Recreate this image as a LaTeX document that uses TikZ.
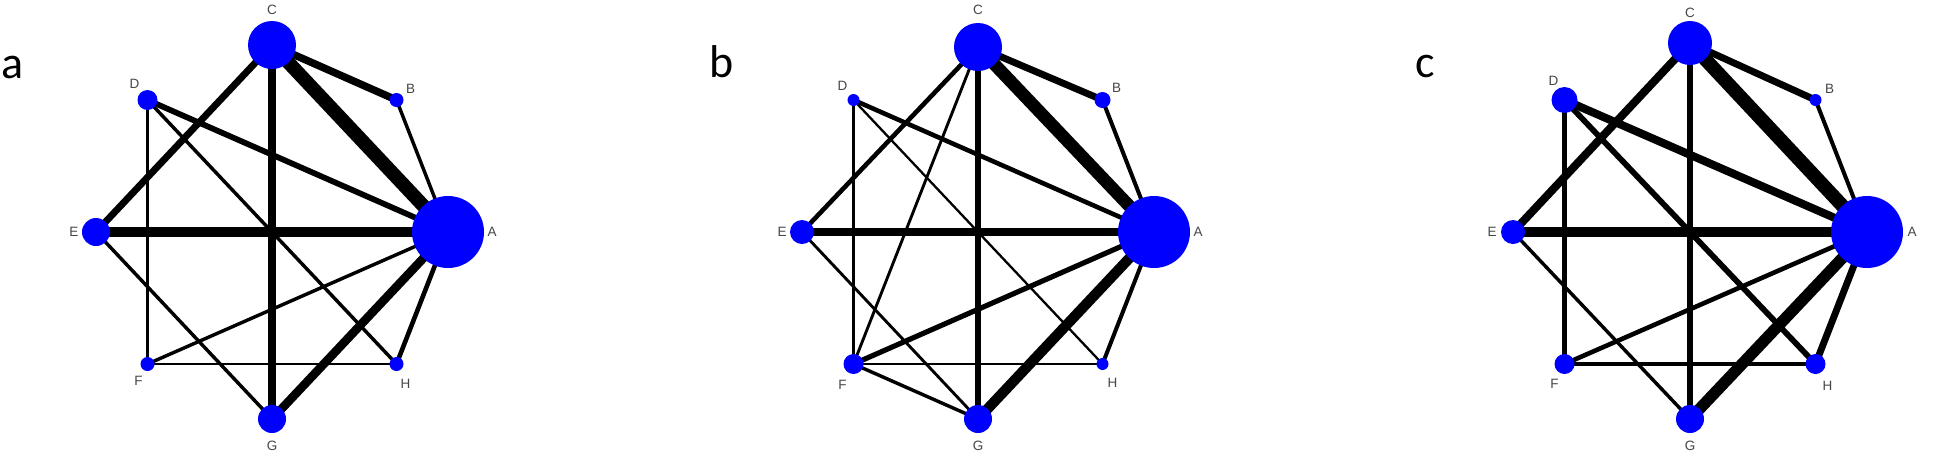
\documentclass[tikz,border=0pt]{standalone}
\usepackage{fontspec}
\setmainfont{Liberation Sans}
\newfontfamily\panelfont{Carlito}
\usetikzlibrary{backgrounds,calc}
\definecolor{netblue}{RGB}{0,0,255}
\definecolor{labgray}{RGB}{70,70,70}
\tikzset{
  vert/.style={circle, fill=netblue, draw=none, inner sep=0pt},
  vlab/.style={text=labgray, font=\fontsize{13.5}{15}\selectfont, inner sep=0pt},
  plab/.style={font=\panelfont\fontsize{46}{50}\selectfont, anchor=base west, inner sep=0pt},
  lnk/.style={draw=black, line width=1.15*#1},
}
% name, x, y, radius, letter, label dx, label dy
\newcommand\vtx[7]{%
  \node[vert, minimum size=#4*2pt] (#1) at (#2,#3) {};
  \node[vlab] (#1-l) at ($(#1)+(#6,#7)$) {#5};
}
\begin{document}
\begin{tikzpicture}[x=1pt,y=-1pt]
\useasboundingbox (0,0) rectangle (1949,456);
\begin{scope}[on background layer]
\fill[white] (0,0) rectangle (1949,456);
\end{scope}

% ---------------- panel a ----------------
\node[plab] (la) at (1,78) {a};
\begin{scope}[xshift=272pt]
\vtx{a-A}{176}{232}{36}{A}{44}{0}
\vtx{a-B}{124.5}{100}{7}{B}{14}{-11}
\vtx{a-C}{0}{45}{24}{C}{0}{-35}
\vtx{a-D}{-124.5}{100}{10}{D}{-13}{-16}
\vtx{a-E}{-176}{232}{14}{E}{-22}{0}
\vtx{a-F}{-124.5}{364}{7}{F}{-9}{17}
\vtx{a-G}{0}{419}{14}{G}{0}{27}
\vtx{a-H}{124.5}{364}{7}{H}{9}{20}
\end{scope}
\begin{scope}[on background layer]
\draw[lnk=12pt] (a-C.center) -- (a-A.center);
\draw[lnk=6.5pt] (a-C.center) -- (a-B.center);
\draw[lnk=6.5pt] (a-C.center) -- (a-G.center);
\draw[lnk=6pt] (a-C.center) -- (a-E.center);
\draw[lnk=5pt] (a-D.center) -- (a-A.center);
\draw[lnk=8pt] (a-E.center) -- (a-A.center);
\draw[lnk=7.5pt] (a-A.center) -- (a-G.center);
\draw[lnk=3pt] (a-B.center) -- (a-A.center);
\draw[lnk=4pt] (a-A.center) -- (a-H.center);
\draw[lnk=3pt] (a-A.center) -- (a-F.center);
\draw[lnk=2.5pt] (a-D.center) -- (a-F.center);
\draw[lnk=3pt] (a-D.center) -- (a-H.center);
\draw[lnk=3pt] (a-E.center) -- (a-G.center);
\draw[lnk=1.7pt] (a-F.center) -- (a-H.center);
\end{scope}

% ---------------- panel b ----------------
\node[plab] (lb) at (709,77) {b};
\begin{scope}[xshift=978pt]
\vtx{b-A}{176}{232}{36}{A}{44}{0}
\vtx{b-B}{124.5}{100}{8}{B}{14}{-12}
\vtx{b-C}{0}{47}{24}{C}{0}{-37}
\vtx{b-D}{-124.5}{100}{6}{D}{-11}{-14}
\vtx{b-E}{-176}{232}{12}{E}{-20}{0}
\vtx{b-F}{-124.5}{364}{10}{F}{-11}{21}
\vtx{b-G}{0}{419}{14}{G}{0}{27}
\vtx{b-H}{124.5}{364}{6}{H}{10}{19}
\end{scope}
\begin{scope}[on background layer]
\draw[lnk=11pt] (b-C.center) -- (b-A.center);
\draw[lnk=6pt] (b-C.center) -- (b-B.center);
\draw[lnk=6pt] (b-C.center) -- (b-G.center);
\draw[lnk=4pt] (b-C.center) -- (b-E.center);
\draw[lnk=2.5pt] (b-C.center) -- (b-F.center);
\draw[lnk=4pt] (b-D.center) -- (b-A.center);
\draw[lnk=7pt] (b-E.center) -- (b-A.center);
\draw[lnk=4.5pt] (b-A.center) -- (b-F.center);
\draw[lnk=9pt] (b-A.center) -- (b-G.center);
\draw[lnk=3.5pt] (b-A.center) -- (b-H.center);
\draw[lnk=3.5pt] (b-B.center) -- (b-A.center);
\draw[lnk=2pt] (b-D.center) -- (b-F.center);
\draw[lnk=2pt] (b-D.center) -- (b-H.center);
\draw[lnk=2.5pt] (b-E.center) -- (b-G.center);
\draw[lnk=2.5pt] (b-F.center) -- (b-H.center);
\draw[lnk=3pt] (b-F.center) -- (b-G.center);
\end{scope}

% ---------------- panel c ----------------
\node[plab] (lc) at (1415,77) {c};
\begin{scope}[xshift=1690pt]
\vtx{c-A}{177}{232}{36}{A}{45}{0}
\vtx{c-B}{125.5}{100}{6}{B}{14}{-11}
\vtx{c-C}{0}{43}{22}{C}{0}{-30}
\vtx{c-D}{-125.5}{100}{13}{D}{-11}{-19}
\vtx{c-E}{-177}{232}{12}{E}{-21}{0}
\vtx{c-F}{-125.5}{364}{10}{F}{-10}{20}
\vtx{c-G}{0}{419}{14}{G}{0}{27}
\vtx{c-H}{125.5}{364}{10}{H}{12}{22}
\end{scope}
\begin{scope}[on background layer]
\draw[lnk=12pt] (c-C.center) -- (c-A.center);
\draw[lnk=6pt] (c-C.center) -- (c-B.center);
\draw[lnk=6pt] (c-C.center) -- (c-G.center);
\draw[lnk=7pt] (c-C.center) -- (c-E.center);
\draw[lnk=7pt] (c-D.center) -- (c-A.center);
\draw[lnk=5pt] (c-D.center) -- (c-F.center);
\draw[lnk=5pt] (c-D.center) -- (c-H.center);
\draw[lnk=8pt] (c-E.center) -- (c-A.center);
\draw[lnk=4pt] (c-A.center) -- (c-F.center);
\draw[lnk=10pt] (c-A.center) -- (c-G.center);
\draw[lnk=6pt] (c-A.center) -- (c-H.center);
\draw[lnk=3.5pt] (c-B.center) -- (c-A.center);
\draw[lnk=3pt] (c-E.center) -- (c-G.center);
\draw[lnk=4pt] (c-F.center) -- (c-H.center);
\end{scope}
\end{tikzpicture}
\end{document}
